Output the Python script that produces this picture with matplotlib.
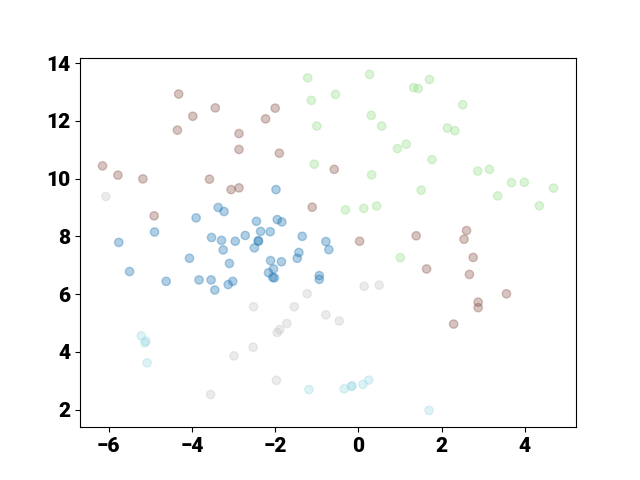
import matplotlib
matplotlib.use("Agg")
import matplotlib.pyplot as plt
import numpy as np

plt.rcParams['font.family'] = ['Roboto', 'DejaVu Sans']

# cluster 0 (blue)
x0 = [-1.98, -3.37, -3.23, -3.90, -4.90, -5.76, -3.53, -3.29, -2.96, -2.72,
      -3.25, -4.06, -3.10, -5.50, -4.62, -3.83, -3.54, -3.13, -3.02, -3.45,
      -2.45, -1.95, -1.84, -2.35, -2.12, -1.35, -2.41, -2.40, -2.50, -0.78,
      -0.71, -1.43, -1.47, -2.11, -1.85, -2.04, -2.16, -2.06, -2.02, -0.94, -0.94]
y0 = [9.62, 9.00, 8.86, 8.64, 8.15, 7.79, 7.96, 7.86, 7.83, 8.03,
      7.53, 7.24, 7.06, 6.78, 6.44, 6.49, 6.49, 6.33, 6.44, 6.14,
      8.52, 8.58, 8.50, 8.17, 8.16, 8.00, 7.85, 7.83, 7.60, 7.82,
      7.54, 7.44, 7.24, 7.16, 7.12, 6.87, 6.74, 6.58, 6.56, 6.64, 6.51]

# cluster 1 (light green)
x1 = [-1.22, 0.27, -0.55, -1.13, 0.31, -1.00, 0.56, 0.94, 1.15, -1.06,
      0.32, 1.71, 1.33, 1.44, 2.51, 2.14, 2.32, 1.77, 2.87, 3.15,
      3.68, 3.99, 4.69, 1.51, 3.35, 4.35, 1.01, -0.31, 0.13, 0.44]
y1 = [13.49, 13.61, 12.92, 12.71, 12.19, 11.82, 11.82, 11.04, 11.19, 10.50,
      10.13, 13.43, 13.15, 13.12, 12.56, 11.75, 11.66, 10.66, 10.26, 10.32,
      9.86, 9.87, 9.67, 9.60, 9.40, 9.06, 7.26, 8.92, 8.97, 9.05]

# cluster 2 (brown)
x2 = [-4.32, -3.44, -3.98, -4.35, -2.87, -2.87, -6.15, -5.78, -5.18, -3.58,
      -3.06, -2.87, -2.00, -2.23, -1.90, -0.58, -4.91, -1.11, 0.03, 1.39,
      2.60, 2.54, 2.76, 1.64, 2.67, 3.56, 2.88, 2.88, 2.29]
y2 = [12.93, 12.45, 12.16, 11.68, 11.56, 11.01, 10.44, 10.12, 9.99, 9.98,
      9.62, 9.68, 12.44, 12.07, 10.88, 10.32, 8.71, 9.01, 7.83, 8.02,
      8.20, 7.90, 7.27, 6.87, 6.68, 6.01, 5.72, 5.53, 4.96]

# cluster 3 (light gray)
x3 = [-6.07, 0.14, 0.50, -1.23, -2.52, -1.54, -0.78, -0.46, -1.72, -1.89,
      -1.95, -2.53, -1.97, -2.99, -3.55]
y3 = [9.38, 6.27, 6.31, 6.01, 5.56, 5.56, 5.28, 5.07, 4.98, 4.77,
      4.67, 4.16, 3.01, 3.86, 2.52]

# cluster 4 (light cyan)
x4 = [-5.22, -5.11, -5.13, -5.08, -1.19, -0.34, -0.17, -0.15, 0.11, 0.25, 1.70]
y4 = [4.55, 4.37, 4.31, 3.62, 2.69, 2.72, 2.80, 2.82, 2.87, 3.02, 1.97]

xs = [x0, x1, x2, x3, x4]
ys = [y0, y1, y2, y3, y4]
x = np.concatenate(xs)
y = np.concatenate(ys)
labels = np.concatenate([np.full(len(a), i) for i, a in enumerate(xs)])

fig, ax = plt.subplots(figsize=(6.4, 4.8), dpi=100)
ax.scatter(x, y, c=labels, cmap='tab20', alpha=0.35)
ax.tick_params(labelsize=15)
for lab in ax.get_xticklabels() + ax.get_yticklabels():
    lab.set_fontweight('heavy')
fig.savefig('out.png', dpi=100)
